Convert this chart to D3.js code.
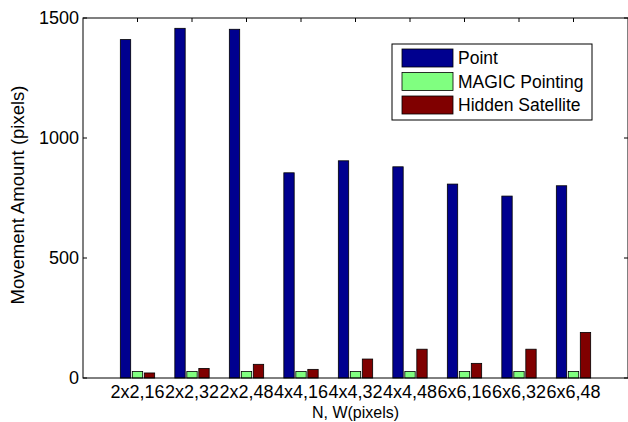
<!DOCTYPE html>
<html lang="en">
<head>
<meta charset="UTF-8">
<title>Movement Amount</title>
<script src="https://cdn.jsdelivr.net/npm/d3@7"></script>
<style>
  body { margin: 0; background: #fff; }
  text { font-family: Arial, "Liberation Sans", sans-serif; fill: #000; }
</style>
</head>
<body>
<script>
// data
var categories = ["2x2,16", "2x2,32", "2x2,48", "4x4,16", "4x4,32", "4x4,48", "6x6,16", "6x6,32", "6x6,48"];
var seriesNames = ["Point", "MAGIC Pointing", "Hidden Satellite"];
var pointVals = [1410, 1457, 1453, 855, 905, 880, 808, 758, 801];
var magicVals = [27, 27, 27, 27, 27, 27, 27, 27, 27];
var hiddenVals = [21, 40, 57, 36, 79, 120, 61, 120, 190];
var yTicks = [0, 500, 1000, 1500];
var colors = ["#00008f", "#80ff80", "#800000"];

var series = [pointVals, magicVals, hiddenVals];

var W = 628, H = 422;
var margin = {top: 18, right: 0, bottom: 44, left: 83},
    width = W - margin.left - margin.right,
    height = H - margin.top - margin.bottom;

var svg = d3.select("body").append("svg")
    .attr("width", W).attr("height", H);
var g = svg.append("g")
    .attr("transform", "translate(" + margin.left + "," + margin.top + ")");

// category i sits at i+1 on a 0..10 axis (matlab style)
var x = d3.scaleLinear().domain([0, 10]).range([0, width]);
var y = d3.scaleLinear().domain([0, 1500]).range([height, 0]);

var step = 0.22, barW = 0.19;
var tickLen = 4;

// bottom ticks go under the bars
categories.forEach(function(c, i) {
    g.append("line").attr("x1", x(i + 1)).attr("x2", x(i + 1))
        .attr("y1", height).attr("y2", height - tickLen).style("stroke", "#000");
});

// bars
series.forEach(function(vals, s) {
    g.selectAll(".bar" + s)
        .data(vals)
        .enter().append("rect")
        .attr("x", function(d, i) { return x(i + 1 + (s - 1) * step - barW / 2); })
        .attr("y", function(d) { return y(d); })
        .attr("width", x(barW) - x(0))
        .attr("height", function(d) { return y(0) - y(d); })
        .style("fill", colors[s])
        .style("stroke", "#000")
        .style("stroke-width", 0.8);
});

// frame
g.append("rect")
    .attr("width", width).attr("height", height)
    .style("fill", "none").style("stroke", "#000").style("stroke-width", 1);

yTicks.forEach(function(t) {
    g.append("line").attr("x1", 0).attr("x2", tickLen)
        .attr("y1", y(t)).attr("y2", y(t)).style("stroke", "#000");
    g.append("line").attr("x1", width).attr("x2", width - tickLen)
        .attr("y1", y(t)).attr("y2", y(t)).style("stroke", "#000");
    g.append("text")
        .attr("x", -4).attr("y", y(t)).attr("dy", "0.36em")
        .style("text-anchor", "end").style("font-size", "18px")
        .text(t);
});
categories.forEach(function(c, i) {
    g.append("line").attr("x1", x(i + 1)).attr("x2", x(i + 1))
        .attr("y1", 0).attr("y2", tickLen).style("stroke", "#000");
    g.append("text")
        .attr("x", x(i + 1)).attr("y", height + 20)
        .style("text-anchor", "middle").style("font-size", "18px")
        .text(c);
});

// axis labels
g.append("text")
    .attr("x", x(5)).attr("y", height + 40)
    .style("text-anchor", "middle").style("font-size", "16px")
    .text("N, W(pixels)");

svg.append("text")
    .attr("transform", "translate(24,195) rotate(-90)")
    .style("text-anchor", "middle").style("font-size", "18.5px")
    .text("Movement Amount (pixels)");

// legend
var lg = svg.append("g").attr("transform", "translate(392,44)");
lg.append("rect").attr("width", 200).attr("height", 76)
    .style("fill", "#fff").style("stroke", "#000");
seriesNames.forEach(function(name, i) {
    lg.append("rect")
        .attr("x", 10).attr("y", 5 + i * 23.5)
        .attr("width", 51).attr("height", 18)
        .style("fill", colors[i]).style("stroke", "#000").style("stroke-width", 0.8);
    lg.append("text")
        .attr("x", 66).attr("y", 14 + i * 23.5).attr("dy", "0.36em")
        .style("font-size", "17.5px")
        .text(name);
});
</script>
</body>
</html>
